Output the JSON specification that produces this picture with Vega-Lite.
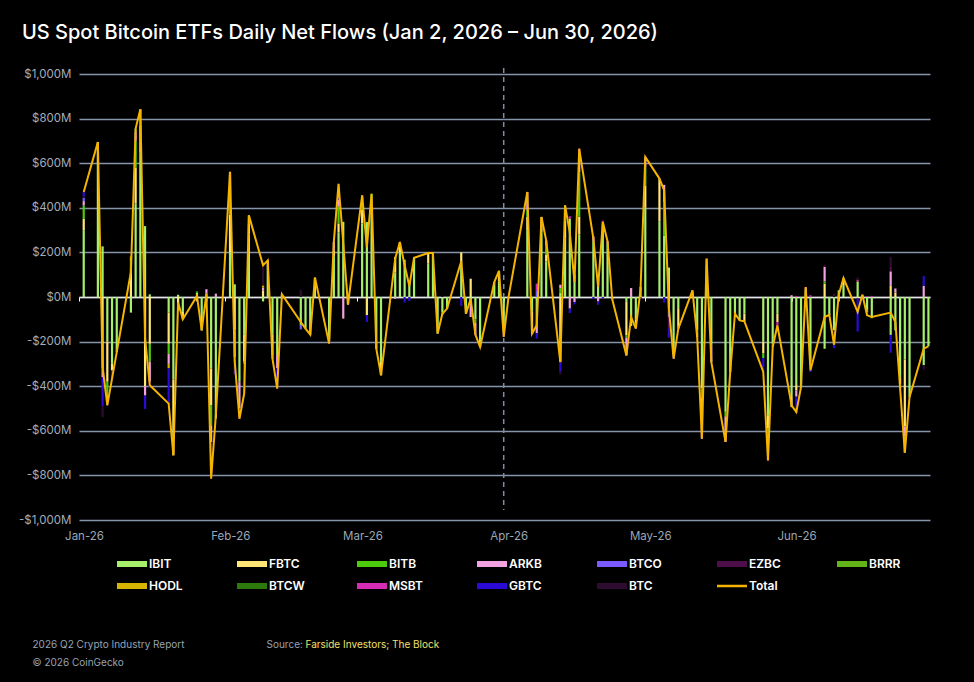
{
  "$schema": "https://vega.github.io/schema/vega-lite/v6.json",
  "autosize": "none",
  "width": 851,
  "height": 446,
  "padding": {"left": 79, "top": 74, "right": 44, "bottom": 162},
  "background": "#000000",
  "title": {
    "text": "US Spot Bitcoin ETFs Daily Net Flows (Jan 2, 2026 – Jun 30, 2026)",
    "anchor": "start",
    "frame": "group",
    "dx": -57,
    "offset": 8,
    "baseline": "alphabetic",
    "color": "#ffffff",
    "font": "Inter",
    "fontSize": 20,
    "fontWeight": 500
  },
  "config": {
    "view": {"stroke": null},
    "font": "Inter"
  },
  "datasets": {
    "etfs": [
      {"etf": "IBIT", "rank": 1}, {"etf": "FBTC", "rank": 2}, {"etf": "BITB", "rank": 3},
      {"etf": "ARKB", "rank": 4}, {"etf": "BTCO", "rank": 5}, {"etf": "EZBC", "rank": 6},
      {"etf": "BRRR", "rank": 7}, {"etf": "HODL", "rank": 8}, {"etf": "BTCW", "rank": 9},
      {"etf": "MSBT", "rank": 10}, {"etf": "GBTC", "rank": 11}, {"etf": "BTC", "rank": 12}
    ],
    "flows": [
      {"d": "2026-01-02", "Total": 471, "IBIT": 300, "FBTC": 50, "BITB": 60, "ARKB": 20, "BTCO": 15, "GBTC": 20, "EZBC": 6},
      {"d": "2026-01-05", "Total": 695, "IBIT": 600, "FBTC": 95},
      {"d": "2026-01-06", "Total": -312, "IBIT": 227, "FBTC": -320, "ARKB": -40, "GBTC": -130, "BTC": -49},
      {"d": "2026-01-07", "Total": -486, "IBIT": -200, "FBTC": -180, "BITB": -60, "ARKB": -26, "GBTC": -20},
      {"d": "2026-01-08", "Total": -366, "IBIT": -300, "FBTC": -30, "GBTC": -36},
      {"d": "2026-01-09", "Total": -247, "IBIT": -240, "FBTC": -7},
      {"d": "2026-01-12", "Total": 112, "IBIT": -70, "FBTC": 130, "BITB": 30, "HODL": 22},
      {"d": "2026-01-13", "Total": 755, "IBIT": 420, "FBTC": 160, "BITB": 120, "ARKB": 40, "BRRR": 15},
      {"d": "2026-01-14", "Total": 842, "IBIT": 650, "FBTC": 120, "BITB": 50, "ARKB": 22},
      {"d": "2026-01-15", "Total": -184, "IBIT": 318, "FBTC": -400, "ARKB": -42, "GBTC": -60},
      {"d": "2026-01-16", "Total": -396, "IBIT": 12, "FBTC": -210, "BITB": -80, "ARKB": -90, "EZBC": -28},
      {"d": "2026-01-20", "Total": -478, "IBIT": -70, "FBTC": -140, "BITB": -45, "ARKB": -45, "HODL": -20, "GBTC": -158},
      {"d": "2026-01-21", "Total": -710, "IBIT": -370, "FBTC": -340},
      {"d": "2026-01-22", "Total": -25, "IBIT": 10, "FBTC": -35},
      {"d": "2026-01-23", "Total": -100, "IBIT": -67, "FBTC": -33},
      {"d": "2026-01-26", "Total": 5, "IBIT": 20, "BITB": 5, "FBTC": -20},
      {"d": "2026-01-27", "Total": -150, "IBIT": -150},
      {"d": "2026-01-28", "Total": 15, "IBIT": 15, "FBTC": -20, "ARKB": 20},
      {"d": "2026-01-29", "Total": -815, "IBIT": -320, "FBTC": -165, "BITB": -90, "ARKB": -75, "GBTC": -75, "BTC": -90},
      {"d": "2026-01-30", "Total": -530, "IBIT": -545, "ARKB": 15},
      {"d": "2026-02-02", "Total": 561, "IBIT": 200, "FBTC": 170, "BITB": 80, "ARKB": 111},
      {"d": "2026-02-03", "Total": -290, "IBIT": 57, "FBTC": -150, "ARKB": -120, "GBTC": -77},
      {"d": "2026-02-04", "Total": -546, "IBIT": -380, "ARKB": -120, "EZBC": -46},
      {"d": "2026-02-05", "Total": -434, "IBIT": -170, "FBTC": -120, "BITB": -10, "GBTC": -134},
      {"d": "2026-02-06", "Total": 366, "IBIT": 280, "FBTC": 50, "BITB": 36},
      {"d": "2026-02-09", "Total": 142, "IBIT": -20, "FBTC": 30, "ARKB": 12, "HODL": 10, "BTC": 110},
      {"d": "2026-02-10", "Total": 164, "IBIT": 120, "FBTC": 44},
      {"d": "2026-02-11", "Total": -277, "IBIT": -170, "FBTC": -90, "BITB": -17},
      {"d": "2026-02-12", "Total": -411, "IBIT": -260, "ARKB": -60, "GBTC": -91},
      {"d": "2026-02-13", "Total": 12, "IBIT": 12},
      {"d": "2026-02-17", "Total": -112, "IBIT": -125, "BTCO": -20, "BTC": 33},
      {"d": "2026-02-18", "Total": -142, "IBIT": -142},
      {"d": "2026-02-19", "Total": -169, "IBIT": -169},
      {"d": "2026-02-20", "Total": 87, "IBIT": 50, "FBTC": 37},
      {"d": "2026-02-23", "Total": -209, "IBIT": -190, "GBTC": -19},
      {"d": "2026-02-24", "Total": 247, "IBIT": 180, "FBTC": 27, "ARKB": 40},
      {"d": "2026-02-25", "Total": 508, "IBIT": 290, "FBTC": 40, "BITB": 75, "ARKB": 30, "GBTC": 73},
      {"d": "2026-02-26", "Total": 240, "IBIT": 337, "ARKB": -97},
      {"d": "2026-02-27", "Total": -34, "IBIT": -34},
      {"d": "2026-03-02", "Total": 456, "IBIT": 330, "FBTC": 60, "BITB": 40, "ARKB": 16, "MSBT": 10},
      {"d": "2026-03-03", "Total": 224, "IBIT": 336, "FBTC": -82, "GBTC": -30},
      {"d": "2026-03-04", "Total": 463, "IBIT": 380, "FBTC": 33, "BITB": 50},
      {"d": "2026-03-05", "Total": -232, "IBIT": -232},
      {"d": "2026-03-06", "Total": -351, "IBIT": -291, "FBTC": -60},
      {"d": "2026-03-09", "Total": 172, "IBIT": 110, "FBTC": 70, "ARKB": -8},
      {"d": "2026-03-10", "Total": 247, "IBIT": 200, "FBTC": 47},
      {"d": "2026-03-11", "Total": 142, "IBIT": 167, "GBTC": -25},
      {"d": "2026-03-12", "Total": 49, "IBIT": 67, "GBTC": -18},
      {"d": "2026-03-13", "Total": 176, "IBIT": 176},
      {"d": "2026-03-16", "Total": 197, "IBIT": 150, "FBTC": 47},
      {"d": "2026-03-17", "Total": 197, "IBIT": 197},
      {"d": "2026-03-18", "Total": -164, "IBIT": -164},
      {"d": "2026-03-19", "Total": -75, "IBIT": -70, "BITB": -10, "BTC": 5},
      {"d": "2026-03-20", "Total": -52, "IBIT": -52},
      {"d": "2026-03-23", "Total": 160, "IBIT": 150, "FBTC": 50, "GBTC": -40},
      {"d": "2026-03-24", "Total": -75, "IBIT": -75},
      {"d": "2026-03-25", "Total": -8, "IBIT": -20, "FBTC": 82, "ARKB": -70},
      {"d": "2026-03-26", "Total": -169, "IBIT": -100, "BITB": -15, "ARKB": -54},
      {"d": "2026-03-27", "Total": -224, "IBIT": -224},
      {"d": "2026-03-30", "Total": 67, "IBIT": 55, "ARKB": 12},
      {"d": "2026-03-31", "Total": 117, "IBIT": 70, "FBTC": 47},
      {"d": "2026-04-01", "Total": -179, "IBIT": -150, "GBTC": -29},
      {"d": "2026-04-02", "Total": -3, "IBIT": -3},
      {"d": "2026-04-06", "Total": 471, "IBIT": 300, "FBTC": 60, "BITB": 31, "ARKB": 80},
      {"d": "2026-04-07", "Total": -164, "IBIT": -64, "FBTC": -100},
      {"d": "2026-04-08", "Total": -127, "IBIT": -120, "ARKB": -42, "BTCO": 30, "MSBT": 30, "GBTC": -25},
      {"d": "2026-04-09", "Total": 359, "IBIT": 290, "FBTC": 69},
      {"d": "2026-04-10", "Total": 254, "IBIT": 160, "FBTC": 30, "BITB": 40, "ARKB": 24},
      {"d": "2026-04-13", "Total": -292, "IBIT": 20, "FBTC": -290, "BITB": 20, "ARKB": 15, "GBTC": -45, "BTC": -12},
      {"d": "2026-04-14", "Total": 411, "IBIT": 262, "FBTC": 80, "BITB": 40, "ARKB": 29},
      {"d": "2026-04-15", "Total": 290, "IBIT": 350, "ARKB": -52, "MSBT": 12, "GBTC": -20},
      {"d": "2026-04-16", "Total": 67, "IBIT": 100, "ARKB": -23, "GBTC": -10},
      {"d": "2026-04-17", "Total": 665, "IBIT": 280, "FBTC": 80, "BITB": 200, "ARKB": 60, "BTCO": 25, "MSBT": 20},
      {"d": "2026-04-20", "Total": 262, "IBIT": 250, "ARKB": 22, "GBTC": -10},
      {"d": "2026-04-21", "Total": 45, "IBIT": 80, "ARKB": -20, "GBTC": -15},
      {"d": "2026-04-22", "Total": 336, "IBIT": 330, "MSBT": 12, "GBTC": -6},
      {"d": "2026-04-23", "Total": 250, "IBIT": 240, "ARKB": 10},
      {"d": "2026-04-24", "Total": -10, "ARKB": -10},
      {"d": "2026-04-27", "Total": -262, "IBIT": -22, "FBTC": -150, "BITB": -10, "ARKB": -80},
      {"d": "2026-04-28", "Total": -90, "IBIT": -130, "ARKB": 40},
      {"d": "2026-04-29", "Total": -142, "IBIT": -100, "FBTC": -20, "GBTC": -22},
      {"d": "2026-04-30", "Total": 37, "IBIT": 45, "EZBC": -8},
      {"d": "2026-05-01", "Total": 628, "IBIT": 400, "FBTC": 100, "BITB": 80, "ARKB": 48},
      {"d": "2026-05-04", "Total": 531, "IBIT": 340, "FBTC": 191},
      {"d": "2026-05-05", "Total": 478, "IBIT": 275, "BITB": 150, "ARKB": 78, "GBTC": -25},
      {"d": "2026-05-06", "Total": -50, "IBIT": 132, "ARKB": -50, "BTCO": -40, "EZBC": -50, "GBTC": -42},
      {"d": "2026-05-07", "Total": -277, "IBIT": -260, "GBTC": -17},
      {"d": "2026-05-08", "Total": -142, "IBIT": -50, "FBTC": -80, "ARKB": -12},
      {"d": "2026-05-11", "Total": 30, "ARKB": 20, "MSBT": 10},
      {"d": "2026-05-12", "Total": -180, "IBIT": -150, "BITB": -10, "ARKB": -20},
      {"d": "2026-05-13", "Total": -635, "IBIT": -410, "BITB": -40, "ARKB": -185},
      {"d": "2026-05-14", "Total": 172, "IBIT": 142, "BITB": 20, "MSBT": 10},
      {"d": "2026-05-15", "Total": -292, "IBIT": -217, "ARKB": -75},
      {"d": "2026-05-18", "Total": -650, "IBIT": -515, "BITB": -20, "ARKB": -115},
      {"d": "2026-05-19", "Total": -336, "IBIT": -336},
      {"d": "2026-05-20", "Total": -75, "IBIT": -75},
      {"d": "2026-05-21", "Total": -105, "IBIT": -100, "FBTC": -5},
      {"d": "2026-05-22", "Total": -109, "IBIT": -75, "FBTC": -34},
      {"d": "2026-05-26", "Total": -336, "IBIT": -200, "FBTC": -52, "BITB": -22, "GBTC": -62},
      {"d": "2026-05-27", "Total": -733, "IBIT": -530, "FBTC": -60, "BITB": -30, "ARKB": -45, "MSBT": -10, "EZBC": -58},
      {"d": "2026-05-28", "Total": -224, "IBIT": -210, "BTCO": -14},
      {"d": "2026-05-29", "Total": -127, "IBIT": -75, "FBTC": -37, "MSBT": -15},
      {"d": "2026-06-01", "Total": -486, "IBIT": -448, "FBTC": -46, "ARKB": 8},
      {"d": "2026-06-02", "Total": -516, "IBIT": -395, "FBTC": -25, "ARKB": -27, "MSBT": 5, "GBTC": -74},
      {"d": "2026-06-03", "Total": -404, "IBIT": -404},
      {"d": "2026-06-04", "Total": 45, "IBIT": 35, "MSBT": 10},
      {"d": "2026-06-05", "Total": -329, "IBIT": -292, "MSBT": 8, "GBTC": -45},
      {"d": "2026-06-08", "Total": -90, "IBIT": -232, "FBTC": 60, "BITB": 10, "ARKB": 65, "EZBC": 7},
      {"d": "2026-06-09", "Total": -80, "IBIT": -80},
      {"d": "2026-06-10", "Total": -214, "IBIT": -150, "GBTC": -80, "BTC": 16},
      {"d": "2026-06-11", "Total": 10, "IBIT": 30, "FBTC": -20},
      {"d": "2026-06-12", "Total": 85, "IBIT": 50, "FBTC": 20, "BITB": 15},
      {"d": "2026-06-15", "Total": -67, "IBIT": 70, "FBTC": -5, "MSBT": 8, "GBTC": -150, "BTC": 10},
      {"d": "2026-06-16", "Total": 10, "FBTC": 6, "ARKB": 4},
      {"d": "2026-06-17", "Total": -82, "IBIT": -60, "ARKB": -10, "MSBT": 3, "GBTC": -15},
      {"d": "2026-06-18", "Total": -90, "IBIT": -95, "MSBT": 5},
      {"d": "2026-06-22", "Total": -70, "IBIT": -170, "FBTC": 50, "ARKB": 65, "EZBC": 20, "GBTC": -80, "BTC": 45},
      {"d": "2026-06-23", "Total": -112, "IBIT": -150, "FBTC": 20, "ARKB": 18},
      {"d": "2026-06-24", "Total": -411, "IBIT": -360, "FBTC": -31, "BITB": -20},
      {"d": "2026-06-25", "Total": -698, "IBIT": -280, "FBTC": -300, "ARKB": -45, "HODL": -73},
      {"d": "2026-06-26", "Total": -448, "IBIT": -448},
      {"d": "2026-06-29", "Total": -232, "IBIT": -306, "ARKB": 50, "GBTC": 44, "BTC": -20},
      {"d": "2026-06-30", "Total": -221, "IBIT": -221}
    ]
  },
  "data": {"name": "flows"},
  "resolve": {"axis": {"x": "independent", "y": "independent"}},
  "layer": [
    {
      "data": {"values": [{"d": "2026-04-01", "top": 1027, "bottom": -955}]},
      "mark": {"type": "rule", "color": "#7f8da3", "strokeWidth": 1.5, "strokeDash": [5, 4]},
      "encoding": {
        "x": {"field": "d", "type": "temporal", "axis": null},
        "y": {"field": "top", "type": "quantitative", "axis": null},
        "y2": {"field": "bottom"}
      }
    },
    {
      "transform": [
        {"fold": ["IBIT", "FBTC", "BITB", "ARKB", "BTCO", "EZBC", "BRRR", "HODL", "BTCW", "MSBT", "GBTC", "BTC"], "as": ["etf", "flow"]},
        {"filter": "datum.flow != null"},
        {"lookup": "etf", "from": {"data": {"name": "etfs"}, "key": "etf", "fields": ["rank"]}}
      ],
      "mark": {"type": "bar", "size": 2.2},
      "encoding": {
        "x": {
          "field": "d",
          "type": "temporal",
          "scale": {
            "type": "utc",
            "nice": false,
            "padding": 0,
            "domain": [
              {"year": 2026, "month": 1, "date": 1, "utc": true},
              {"year": 2026, "month": 6, "date": 30, "hours": 8, "utc": true}
            ]
          },
          "axis": {
            "orient": "bottom",
            "format": "%b-%y",
            "tickCount": {"interval": "month", "step": 1},
            "labelColor": "#9aa6b6",
            "labelFontSize": 11.5,
            "labelPadding": 10,
            "labelOffset": 5,
            "labelFlush": false,
            "ticks": false,
            "domain": false,
            "grid": false,
            "title": "Source:",
            "titleX": 187,
            "titleY": 124,
            "titleAlign": "left",
            "titleBaseline": "middle",
            "titleColor": "#97a3b3",
            "titleFontSize": 10,
            "titleFontWeight": "normal"
          }
        },
        "y": {
          "field": "flow",
          "type": "quantitative",
          "stack": "zero",
          "scale": {"domain": [-1000, 1000], "nice": false, "zero": true},
          "axis": {
            "values": [-1000, -800, -600, -400, -200, 0, 200, 400, 600, 800, 1000],
            "labelExpr": "(datum.value < 0 ? '-$' : '$') + format(abs(datum.value), ',') + 'M'",
            "labelColor": "#a3aebd",
            "labelFontSize": 11.5,
            "labelPadding": 8,
            "ticks": false,
            "domain": false,
            "grid": true,
            "gridColor": "#8694aa",
            "gridWidth": 1.3,
            "title": ["2026 Q2 Crypto Industry Report", "© 2026 CoinGecko"],
            "titleAngle": 0,
            "titleX": -47,
            "titleY": 570,
            "titleAlign": "left",
            "titleBaseline": "middle",
            "titleLineHeight": 18,
            "titleColor": "#97a3b3",
            "titleFontSize": 10,
            "titleFontWeight": "normal"
          }
        },
        "order": {"field": "rank", "type": "quantitative"},
        "color": {
          "field": "etf",
          "type": "nominal",
          "scale": {
            "domain": ["IBIT", "FBTC", "BITB", "ARKB", "BTCO", "EZBC", "BRRR", "HODL", "BTCW", "MSBT", "GBTC", "BTC", "Total"],
            "range": ["#a6ef6a", "#ffe675", "#4ccc0c", "#f2a2e0", "#7b5bff", "#4d0e4a", "#62b418", "#d6b400", "#2c7a0c", "#d42cb4", "#2a0ad4", "#2e0c30", "#f5b400"]
          },
          "legend": {
            "orient": "none",
            "legendX": 47,
            "legendY": 484,
            "direction": "horizontal",
            "columns": 7,
            "gridAlign": "all",
            "columnPadding": 47,
            "rowPadding": 10,
            "padding": 0,
            "title": null,
            "symbolSize": 400,
            "labelOffset": 11,
            "labelColor": "#ffffff",
            "labelFontSize": 12,
            "labelFontWeight": 600,
            "encode": {
              "symbols": {
                "update": {
                  "shape": {"signal": "datum.value === 'Total' ? 'M-1.5,0H1.5' : 'M-1.5,-0.3H1.5V0.3H-1.5Z'"},
                  "fill": {"signal": "datum.value === 'Total' ? 'transparent' : scale('color', datum.value)"},
                  "stroke": {"signal": "datum.value === 'Total' ? '#f5b400' : 'transparent'"},
                  "strokeWidth": {"signal": "datum.value === 'Total' ? 2.5 : 0"},
                  "opacity": {"value": 1}
                }
              }
            }
          }
        }
      }
    },
    {
      "mark": {"type": "line", "strokeWidth": 2},
      "encoding": {
        "x": {
          "field": "d",
          "type": "temporal",
          "axis": {
            "orient": "top",
            "offset": -223,
            "labels": false,
            "grid": false,
            "domain": true,
            "domainColor": "#e6e6e6",
            "domainWidth": 1.5,
            "ticks": true,
            "tickColor": "#ffffff",
            "tickSize": -4,
            "tickCount": {"interval": "month", "step": 1},
            "title": "Farside Investors; The Block",
            "titleX": 226,
            "titleY": 347,
            "titleAlign": "left",
            "titleBaseline": "middle",
            "titleColor": "#f2e06a",
            "titleFontSize": 10,
            "titleFontWeight": "normal"
          }
        },
        "y": {"field": "Total", "type": "quantitative", "axis": null},
        "color": {"datum": "Total"}
      }
    }
  ]
}
